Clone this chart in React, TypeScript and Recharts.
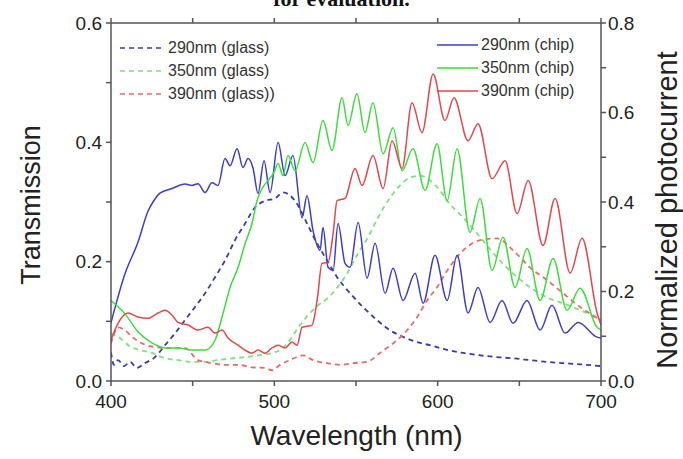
import React from 'react';
import { LineChart, Line, XAxis, YAxis } from 'recharts';

// [wavelength nm, value]
const glass290 = [
  [400, 0.048], [401.8, 0.027], [404.3, 0.035], [408, 0.025], [411.6, 0.032], [415.9, 0.022],
  [420.8, 0.03], [426.9, 0.04], [433.1, 0.06], [439.2, 0.08], [445.3, 0.102], [451.4, 0.124],
  [457.6, 0.147], [463.7, 0.174], [469.8, 0.202], [475.9, 0.236], [482.1, 0.264], [488.2, 0.291],
  [494.3, 0.302], [500.4, 0.306], [505.3, 0.316], [509.6, 0.311], [513.9, 0.297], [520, 0.264],
  [526.1, 0.231], [532.3, 0.202], [538.4, 0.174], [546.4, 0.147], [554.3, 0.124], [562.9, 0.102],
  [570.8, 0.085], [578.8, 0.074], [587.4, 0.065], [595.3, 0.06], [605.8, 0.052], [615.6, 0.047],
  [626, 0.043], [636.4, 0.04], [646.2, 0.038], [656.6, 0.035], [667, 0.032], [676.8, 0.03],
  [687.2, 0.028], [700, 0.025],
];

const glass350 = [
  [400, 0.08], [405.5, 0.072], [411.6, 0.058], [417.8, 0.052], [425.1, 0.047], [433.1, 0.038],
  [441, 0.035], [449.6, 0.032], [457.6, 0.032], [465.5, 0.035], [474.1, 0.038], [482.1, 0.04],
  [490, 0.043], [498.6, 0.047], [503.5, 0.052], [509.6, 0.069], [514.5, 0.089], [520.6, 0.11],
  [526.8, 0.127], [531, 0.135], [537.2, 0.152], [544.5, 0.18], [551.3, 0.214], [557.4, 0.241],
  [563.5, 0.274], [570.8, 0.307], [577, 0.328], [583.1, 0.341], [589.2, 0.344], [595.3, 0.336],
  [601.5, 0.319], [605.8, 0.302], [615.6, 0.274], [626, 0.241], [636.4, 0.207], [646.2, 0.18],
  [656.6, 0.157], [667, 0.14], [676.8, 0.13], [687.2, 0.119], [700, 0.102],
];

const glass390 = [
  [400, 0.063], [404.3, 0.09], [408.6, 0.085], [412.9, 0.074], [419, 0.063], [426.9, 0.057],
  [437.4, 0.055], [445.3, 0.055], [453.3, 0.035], [461.8, 0.03], [469.8, 0.027], [477.8, 0.027],
  [486.3, 0.023], [494.3, 0.022], [498.6, 0.018], [503.5, 0.027], [509.6, 0.035], [517.6, 0.043],
  [523.7, 0.035], [532.3, 0.03], [540.2, 0.027], [548.2, 0.03], [556.8, 0.032], [564.7, 0.047],
  [572.7, 0.063], [581.3, 0.085], [587.4, 0.107], [593.5, 0.135], [599.6, 0.157], [605.8, 0.185],
  [615.6, 0.219], [626, 0.236], [636.4, 0.239], [646.2, 0.219], [656.6, 0.19], [667, 0.169],
  [676.8, 0.147], [687.2, 0.124], [700, 0.102],
];

const chip290 = [
  [400, 0.13], [408.6, 0.24], [416.5, 0.31], [422.7, 0.38], [425.7, 0.4], [430, 0.42],
  [437.4, 0.43], [445.3, 0.44], [449.6, 0.437], [453.3, 0.441], [457.6, 0.421], [461.8, 0.443],
  [465.5, 0.437], [469.8, 0.497], [472.9, 0.481], [477.2, 0.519], [480.8, 0.477], [483.9, 0.497],
  [487, 0.475], [490, 0.419], [493.7, 0.492], [497.4, 0.421], [502.3, 0.533], [506.6, 0.459],
  [511.4, 0.504], [517, 0.365], [520, 0.414], [523.7, 0.336], [528, 0.292], [529.8, 0.343],
  [532.9, 0.254], [536, 0.247], [539, 0.352], [543.3, 0.263], [546.4, 0.254], [551.3, 0.354],
  [556.8, 0.23], [561.7, 0.308], [567.8, 0.196], [572.7, 0.252], [578.8, 0.18], [586.2, 0.241],
  [591.1, 0.174], [598.4, 0.281], [605.8, 0.18], [611.9, 0.281], [618.6, 0.152], [624.7, 0.209],
  [632.1, 0.131], [639.4, 0.18], [646.2, 0.129], [654.7, 0.18], [662.7, 0.114], [670, 0.169],
  [678, 0.107], [686, 0.131], [697.6, 0.098], [700, 0.096],
];

const chip350 = [
  [400, 0.18], [408.6, 0.15], [416.5, 0.11], [425.1, 0.085], [433.1, 0.074], [441, 0.074],
  [449.6, 0.069], [457.6, 0.069], [463.7, 0.091], [468, 0.143], [472.9, 0.209], [477.8, 0.254],
  [482.1, 0.307], [486.3, 0.352], [489.4, 0.403], [492.5, 0.43], [496.1, 0.448], [499.8, 0.466],
  [502.3, 0.486], [505.3, 0.459], [508.4, 0.504], [512.7, 0.47], [518.8, 0.533], [523.7, 0.488],
  [529.8, 0.582], [535.3, 0.515], [541.5, 0.633], [545.1, 0.571], [550.6, 0.642], [555.5, 0.555],
  [560.4, 0.622], [566.6, 0.508], [572.7, 0.566], [578.2, 0.47], [584.9, 0.519], [592.3, 0.426],
  [599.6, 0.53], [605.8, 0.403], [611.9, 0.519], [619.8, 0.332], [626, 0.408], [633.3, 0.247],
  [640, 0.321], [647.4, 0.209], [654.7, 0.296], [662.7, 0.18], [670.7, 0.274], [679.2, 0.158],
  [687.2, 0.207], [697.6, 0.12], [700, 0.114],
];

const chip390 = [
  [400, 0.091], [404.3, 0.129], [410.4, 0.152], [416.5, 0.143], [422.7, 0.14], [428.8, 0.152],
  [433.1, 0.158], [437.4, 0.147], [441, 0.131], [447.2, 0.125], [453.3, 0.114], [459.4, 0.12],
  [463.7, 0.107], [468, 0.114], [471.6, 0.096], [477.8, 0.08], [482.1, 0.069], [486.3, 0.062],
  [490, 0.069], [494.3, 0.062], [498.6, 0.074], [502.3, 0.08], [506.6, 0.074], [510.8, 0.087],
  [513.9, 0.08], [517, 0.12], [523.1, 0.125], [526.2, 0.18], [529.2, 0.263], [532.9, 0.265],
  [536, 0.33], [538.4, 0.403], [543.3, 0.408], [549.4, 0.475], [553.7, 0.437], [560.4, 0.504],
  [566.6, 0.43], [572.1, 0.537], [578.2, 0.475], [584.3, 0.622], [590.4, 0.555], [597.2, 0.686],
  [604.5, 0.582], [610, 0.633], [618.6, 0.537], [624.7, 0.575], [633.3, 0.452], [641.3, 0.492],
  [648.6, 0.374], [655.4, 0.448], [664.5, 0.303], [671.9, 0.408], [681.1, 0.241], [688.4, 0.319],
  [697.6, 0.152], [700, 0.125],
];

const xTicks = [400, 450, 500, 550, 600, 650, 700];
const leftTicks = [0, 0.1, 0.2, 0.3, 0.4, 0.5, 0.6];
const rightTicks = [0, 0.1, 0.2, 0.3, 0.4, 0.5, 0.6, 0.7, 0.8];

const glassLabels = ['290nm (glass)', '350nm (glass)', '390nm (glass))'];
const chipLabels = ['290nm (chip)', '350nm (chip)', '390nm (chip)'];

const BLUE = '#3e3ec6';
const GREEN = '#3ddc3d';
const RED = '#e2474c';
const BLUE_D = '#3a3aa6';
const GREEN_D = '#7ee07e';
const RED_D = '#e86a6a';

const toPts = (arr: number[][]) => arr.map(([x, y]) => ({ x, y }));

const AXIS = '#555';
const FONT = 'Liberation Sans, Arial, sans-serif';
const tickStyle = { fill: '#222', fontSize: 19, fontFamily: FONT };

const showMajor = (step: number) => (v: number) =>
  Math.abs(Math.round(v / step) * step - v) < 1e-6 ? (v >= 100 ? String(v) : v.toFixed(1)) : '';

function LegendBlock({ labels, colors, dashed, left, top, lineW }: any) {
  return (
    <div style={{ position: 'absolute', left, top }}>
      {labels.map((l: string, i: number) => (
        <div key={l} style={{ display: 'flex', alignItems: 'center', height: 23 }}>
          <svg width={lineW} height={10} style={{ marginRight: 3 }}>
            <line x1={0} y1={5} x2={lineW} y2={5} stroke={colors[i]} strokeWidth={1.5}
              strokeDasharray={dashed ? '5 4' : undefined} />
          </svg>
          <span style={{ fontFamily: FONT, fontSize: 16, color: '#333' }}>{l}</span>
        </div>
      ))}
    </div>
  );
}

export default function App() {
  return (
    <div style={{ position: 'absolute', left: 0, top: 0, width: 683, height: 459, overflow: 'hidden', background: '#fff' }}>
      <div style={{ position: 'absolute', top: -14, left: 0, width: 683, textAlign: 'center', fontFamily: 'Liberation Serif, serif', fontSize: 22, fontWeight: 'bold', color: '#111' }}>
        for evaluation.
      </div>
      <LineChart width={683} height={459} margin={{ top: 22, right: 22, bottom: 48, left: 51 }}>
        <XAxis xAxisId="b" type="number" dataKey="x" domain={[400, 700]} ticks={xTicks}
          tickFormatter={showMajor(100)} stroke={AXIS} strokeWidth={1.5} tick={tickStyle}
          tickSize={5} tickMargin={9} height={30} allowDataOverflow />
        <XAxis xAxisId="t" orientation="top" type="number" dataKey="x" domain={[400, 700]} ticks={xTicks}
          tickFormatter={() => ''} stroke={AXIS} strokeWidth={1.5} tickSize={5} height={1} allowDataOverflow />
        <YAxis yAxisId="left" domain={[0, 0.6]} ticks={leftTicks} tickFormatter={showMajor(0.2)}
          stroke={AXIS} strokeWidth={1.5} tick={tickStyle} tickSize={5} tickMargin={4} width={60} allowDataOverflow />
        <YAxis yAxisId="right" orientation="right" domain={[0, 0.8]} ticks={rightTicks} tickFormatter={showMajor(0.2)}
          stroke={AXIS} strokeWidth={1.5} tick={tickStyle} tickSize={5} tickMargin={2} width={60} allowDataOverflow />

        <Line xAxisId="b" yAxisId="left" data={toPts(glass290)} dataKey="y" stroke={BLUE_D} strokeWidth={1.8}
          strokeDasharray="5 4" dot={false} type="monotone" isAnimationActive={false} />
        <Line xAxisId="b" yAxisId="left" data={toPts(glass350)} dataKey="y" stroke={GREEN_D} strokeWidth={1.8}
          strokeDasharray="5 4" dot={false} type="monotone" isAnimationActive={false} />
        <Line xAxisId="b" yAxisId="left" data={toPts(glass390)} dataKey="y" stroke={RED_D} strokeWidth={1.8}
          strokeDasharray="5 4" dot={false} type="monotone" isAnimationActive={false} />
        <Line xAxisId="b" yAxisId="right" data={toPts(chip290)} dataKey="y" stroke={BLUE} strokeWidth={1.5}
          dot={false} type="monotone" isAnimationActive={false} />
        <Line xAxisId="b" yAxisId="right" data={toPts(chip350)} dataKey="y" stroke={GREEN} strokeWidth={1.5}
          dot={false} type="monotone" isAnimationActive={false} />
        <Line xAxisId="b" yAxisId="right" data={toPts(chip390)} dataKey="y" stroke={RED} strokeWidth={1.5}
          dot={false} type="monotone" isAnimationActive={false} />
      </LineChart>

      <LegendBlock labels={glassLabels} colors={[BLUE_D, GREEN_D, RED_D]} dashed left={120} top={36} lineW={45} />
      <LegendBlock labels={chipLabels} colors={[BLUE, GREEN, RED]} left={437} top={33} lineW={41} />

      <div style={{ position: 'absolute', left: 0, top: 420, width: 683, paddingLeft: 30, boxSizing: 'border-box', textAlign: 'center', fontFamily: FONT, fontSize: 28, color: '#222' }}>
        Wavelength (nm)
      </div>
      <div style={{ position: 'absolute', left: 31, top: 205, transform: 'translate(-50%, -50%) rotate(-90deg)', whiteSpace: 'nowrap', fontFamily: FONT, fontSize: 27, color: '#222' }}>
        Transmission
      </div>
      <div style={{ position: 'absolute', left: 667, top: 210, transform: 'translate(-50%, -50%) rotate(-90deg)', whiteSpace: 'nowrap', fontFamily: FONT, fontSize: 29, color: '#222' }}>
        Normalized photocurrent
      </div>
    </div>
  );
}
